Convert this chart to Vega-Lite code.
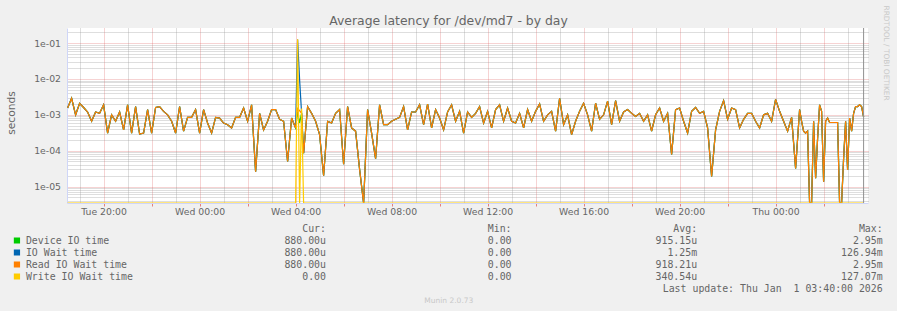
{
  "$schema": "https://vega.github.io/schema/vega-lite/v6.json",
  "width": 801,
  "height": 175,
  "autosize": {"type": "none"},
  "padding": {"left": 67, "top": 28, "right": 29, "bottom": 108},
  "background": "#f0f0f0",
  "config": {
    "view": {"fill": "#ffffff", "stroke": null},
    "font": "DejaVu Sans",
    "axis": {"labelFont": "DejaVu Sans", "titleFont": "DejaVu Sans", "labelColor": "#666666", "titleColor": "#666666", "titleFontWeight": "normal"}
  },
  "title": {"text": "Average latency for /dev/md7 - by day", "font": "DejaVu Sans", "fontSize": 12.4, "fontWeight": "normal", "color": "#666666", "anchor": "middle", "frame": "group", "dx": -19, "dy": 24, "offset": 2},
  "datasets": {
    "lat": [
      {"t":"2025-12-30 18:30","d":1.55e-3,"w":1.55e-3,"r":1.55e-3,"y":0},
      {"t":"2025-12-30 18:40","d":2.9e-3,"w":2.9e-3,"r":2.9e-3,"y":0},
      {"t":"2025-12-30 18:50","d":1.0e-3,"w":1.0e-3,"r":1.0e-3,"y":0},
      {"t":"2025-12-30 19:00","d":2.1e-3,"w":2.1e-3,"r":2.1e-3,"y":0},
      {"t":"2025-12-30 19:10","d":1.6e-3,"w":1.6e-3,"r":1.6e-3,"y":0},
      {"t":"2025-12-30 19:20","d":1.2e-3,"w":1.2e-3,"r":1.2e-3,"y":0},
      {"t":"2025-12-30 19:30","d":6.6e-4,"w":6.6e-4,"r":6.6e-4,"y":0},
      {"t":"2025-12-30 19:40","d":1.2e-3,"w":1.2e-3,"r":1.2e-3,"y":0},
      {"t":"2025-12-30 19:50","d":1.1e-3,"w":1.1e-3,"r":1.1e-3,"y":0},
      {"t":"2025-12-30 20:00","d":1.9e-3,"w":1.9e-3,"r":1.9e-3,"y":0},
      {"t":"2025-12-30 20:10","d":3.1e-4,"w":3.1e-4,"r":3.1e-4,"y":0},
      {"t":"2025-12-30 20:20","d":1.0e-3,"w":1.0e-3,"r":1.0e-3,"y":0},
      {"t":"2025-12-30 20:30","d":6.6e-4,"w":6.6e-4,"r":6.6e-4,"y":0},
      {"t":"2025-12-30 20:40","d":1.2e-3,"w":1.2e-3,"r":1.2e-3,"y":0},
      {"t":"2025-12-30 20:50","d":3.8e-4,"w":3.8e-4,"r":3.8e-4,"y":0},
      {"t":"2025-12-30 21:00","d":1.9e-3,"w":1.9e-3,"r":1.9e-3,"y":0},
      {"t":"2025-12-30 21:10","d":3.1e-4,"w":3.1e-4,"r":3.1e-4,"y":0},
      {"t":"2025-12-30 21:20","d":1.7e-3,"w":1.7e-3,"r":1.7e-3,"y":0},
      {"t":"2025-12-30 21:30","d":2.9e-4,"w":2.9e-4,"r":2.9e-4,"y":0},
      {"t":"2025-12-30 21:40","d":3.1e-4,"w":3.1e-4,"r":3.1e-4,"y":0},
      {"t":"2025-12-30 21:50","d":1.4e-3,"w":1.4e-3,"r":1.4e-3,"y":0},
      {"t":"2025-12-30 22:00","d":3.1e-4,"w":3.1e-4,"r":3.1e-4,"y":0},
      {"t":"2025-12-30 22:10","d":1.6e-3,"w":1.6e-3,"r":1.6e-3,"y":0},
      {"t":"2025-12-30 22:20","d":1.7e-3,"w":1.7e-3,"r":1.7e-3,"y":0},
      {"t":"2025-12-30 22:30","d":1.25e-3,"w":1.25e-3,"r":1.25e-3,"y":0},
      {"t":"2025-12-30 22:40","d":1.0e-3,"w":1.0e-3,"r":1.0e-3,"y":0},
      {"t":"2025-12-30 22:50","d":6.6e-4,"w":6.6e-4,"r":6.6e-4,"y":0},
      {"t":"2025-12-30 23:00","d":3.1e-4,"w":3.1e-4,"r":3.1e-4,"y":0},
      {"t":"2025-12-30 23:10","d":1.7e-3,"w":1.7e-3,"r":1.7e-3,"y":0},
      {"t":"2025-12-30 23:20","d":3.5e-4,"w":3.5e-4,"r":3.5e-4,"y":0},
      {"t":"2025-12-30 23:30","d":8.5e-4,"w":8.5e-4,"r":8.5e-4,"y":0},
      {"t":"2025-12-30 23:40","d":8.5e-4,"w":8.5e-4,"r":8.5e-4,"y":0},
      {"t":"2025-12-30 23:50","d":1.4e-3,"w":1.4e-3,"r":1.4e-3,"y":0},
      {"t":"2025-12-31 00:00","d":3.1e-4,"w":3.1e-4,"r":3.1e-4,"y":0},
      {"t":"2025-12-31 00:10","d":1.4e-3,"w":1.4e-3,"r":1.4e-3,"y":0},
      {"t":"2025-12-31 00:20","d":5.9e-4,"w":5.9e-4,"r":5.9e-4,"y":0},
      {"t":"2025-12-31 00:30","d":3.1e-4,"w":3.1e-4,"r":3.1e-4,"y":0},
      {"t":"2025-12-31 00:40","d":8.5e-4,"w":8.5e-4,"r":8.5e-4,"y":0},
      {"t":"2025-12-31 00:50","d":8.1e-4,"w":8.1e-4,"r":8.1e-4,"y":0},
      {"t":"2025-12-31 01:00","d":5.9e-4,"w":5.9e-4,"r":5.9e-4,"y":0},
      {"t":"2025-12-31 01:10","d":5.3e-4,"w":5.3e-4,"r":5.3e-4,"y":0},
      {"t":"2025-12-31 01:20","d":4.3e-4,"w":4.3e-4,"r":4.3e-4,"y":0},
      {"t":"2025-12-31 01:30","d":8.5e-4,"w":8.5e-4,"r":8.5e-4,"y":0},
      {"t":"2025-12-31 01:40","d":8.5e-4,"w":8.5e-4,"r":8.5e-4,"y":0},
      {"t":"2025-12-31 01:50","d":1.55e-3,"w":1.55e-3,"r":1.55e-3,"y":0},
      {"t":"2025-12-31 02:00","d":6.6e-4,"w":6.6e-4,"r":6.6e-4,"y":0},
      {"t":"2025-12-31 02:10","d":1.9e-3,"w":1.9e-3,"r":1.9e-3,"y":0},
      {"t":"2025-12-31 02:20","d":2.6e-5,"w":2.6e-5,"r":2.6e-5,"y":0},
      {"t":"2025-12-31 02:30","d":1.1e-3,"w":1.1e-3,"r":1.1e-3,"y":0},
      {"t":"2025-12-31 02:40","d":3.8e-4,"w":3.8e-4,"r":3.8e-4,"y":0},
      {"t":"2025-12-31 02:50","d":6.6e-4,"w":6.6e-4,"r":6.6e-4,"y":0},
      {"t":"2025-12-31 03:00","d":1.4e-3,"w":1.4e-3,"r":1.4e-3,"y":0},
      {"t":"2025-12-31 03:10","d":1.4e-3,"w":1.4e-3,"r":1.4e-3,"y":0},
      {"t":"2025-12-31 03:20","d":7.5e-4,"w":7.5e-4,"r":7.5e-4,"y":0},
      {"t":"2025-12-31 03:30","d":6.6e-4,"w":6.6e-4,"r":6.6e-4,"y":0},
      {"t":"2025-12-31 03:40","d":5.0e-5,"w":5.0e-5,"r":5.0e-5,"y":0},
      {"t":"2025-12-31 03:50","d":8.1e-4,"w":8.1e-4,"r":8.1e-4,"y":0},
      {"t":"2025-12-31 04:00","d":4.3e-4,"w":4.3e-4,"r":4.3e-4,"y":0},
      {"t":"2025-12-31 04:05","d":1.2e-3,"w":0.1269,"r":1.5e-3,"y":0.1271},
      {"t":"2025-12-31 04:10","d":6.0e-4,"w":9.5e-3,"r":1.3e-3,"y":0},
      {"t":"2025-12-31 04:15","d":1.1e-3,"w":1.1e-3,"r":1.1e-3,"y":1.5e-3},
      {"t":"2025-12-31 04:20","d":8.5e-5,"w":8.5e-5,"r":8.5e-5,"y":0},
      {"t":"2025-12-31 04:30","d":1.7e-3,"w":1.7e-3,"r":1.7e-3,"y":0},
      {"t":"2025-12-31 04:40","d":1.1e-3,"w":1.1e-3,"r":1.1e-3,"y":0},
      {"t":"2025-12-31 04:50","d":6.6e-4,"w":6.6e-4,"r":6.6e-4,"y":0},
      {"t":"2025-12-31 05:00","d":2.8e-4,"w":2.8e-4,"r":2.8e-4,"y":0},
      {"t":"2025-12-31 05:10","d":2.0e-5,"w":2.0e-5,"r":2.0e-5,"y":0},
      {"t":"2025-12-31 05:20","d":6.6e-4,"w":6.6e-4,"r":6.6e-4,"y":0},
      {"t":"2025-12-31 05:30","d":5.9e-4,"w":5.9e-4,"r":5.9e-4,"y":0},
      {"t":"2025-12-31 05:40","d":1.1e-3,"w":1.1e-3,"r":1.1e-3,"y":0},
      {"t":"2025-12-31 05:50","d":1.4e-3,"w":1.4e-3,"r":1.4e-3,"y":0},
      {"t":"2025-12-31 06:00","d":4.2e-5,"w":4.2e-5,"r":4.2e-5,"y":0},
      {"t":"2025-12-31 06:10","d":1.7e-3,"w":1.7e-3,"r":1.7e-3,"y":0},
      {"t":"2025-12-31 06:20","d":4.3e-4,"w":4.3e-4,"r":4.3e-4,"y":0},
      {"t":"2025-12-31 06:30","d":3.5e-4,"w":3.5e-4,"r":3.5e-4,"y":0},
      {"t":"2025-12-31 06:40","d":3.0e-5,"w":3.0e-5,"r":3.0e-5,"y":0},
      {"t":"2025-12-31 06:50","d":0,"w":0,"r":0,"y":0},
      {"t":"2025-12-31 07:00","d":1.4e-3,"w":1.4e-3,"r":1.4e-3,"y":0},
      {"t":"2025-12-31 07:10","d":3.1e-4,"w":3.1e-4,"r":3.1e-4,"y":0},
      {"t":"2025-12-31 07:20","d":6.0e-5,"w":6.0e-5,"r":6.0e-5,"y":0},
      {"t":"2025-12-31 07:30","d":1.9e-3,"w":1.9e-3,"r":1.9e-3,"y":0},
      {"t":"2025-12-31 07:40","d":5.3e-4,"w":5.3e-4,"r":5.3e-4,"y":0},
      {"t":"2025-12-31 07:50","d":5.3e-4,"w":5.3e-4,"r":5.3e-4,"y":0},
      {"t":"2025-12-31 08:00","d":6.6e-4,"w":6.6e-4,"r":6.6e-4,"y":0},
      {"t":"2025-12-31 08:10","d":7.5e-4,"w":7.5e-4,"r":7.5e-4,"y":0},
      {"t":"2025-12-31 08:20","d":8.5e-4,"w":8.5e-4,"r":8.5e-4,"y":0},
      {"t":"2025-12-31 08:30","d":1.7e-3,"w":1.7e-3,"r":1.7e-3,"y":0},
      {"t":"2025-12-31 08:40","d":3.8e-4,"w":3.8e-4,"r":3.8e-4,"y":0},
      {"t":"2025-12-31 08:50","d":1.2e-3,"w":1.2e-3,"r":1.2e-3,"y":0},
      {"t":"2025-12-31 09:00","d":1.2e-3,"w":1.2e-3,"r":1.2e-3,"y":0},
      {"t":"2025-12-31 09:10","d":1.9e-3,"w":1.9e-3,"r":1.9e-3,"y":0},
      {"t":"2025-12-31 09:20","d":5.3e-4,"w":5.3e-4,"r":5.3e-4,"y":0},
      {"t":"2025-12-31 09:30","d":2.0e-3,"w":2.0e-3,"r":2.0e-3,"y":0},
      {"t":"2025-12-31 09:40","d":4.3e-4,"w":4.3e-4,"r":4.3e-4,"y":0},
      {"t":"2025-12-31 09:50","d":1.4e-3,"w":1.4e-3,"r":1.4e-3,"y":0},
      {"t":"2025-12-31 10:00","d":8.1e-4,"w":8.1e-4,"r":8.1e-4,"y":0},
      {"t":"2025-12-31 10:10","d":3.8e-4,"w":3.8e-4,"r":3.8e-4,"y":0},
      {"t":"2025-12-31 10:20","d":1.2e-3,"w":1.2e-3,"r":1.2e-3,"y":0},
      {"t":"2025-12-31 10:30","d":1.9e-3,"w":1.9e-3,"r":1.9e-3,"y":0},
      {"t":"2025-12-31 10:40","d":6.6e-4,"w":6.6e-4,"r":6.6e-4,"y":0},
      {"t":"2025-12-31 10:50","d":1.25e-3,"w":1.25e-3,"r":1.25e-3,"y":0},
      {"t":"2025-12-31 11:00","d":3.1e-4,"w":3.1e-4,"r":3.1e-4,"y":0},
      {"t":"2025-12-31 11:10","d":1.2e-3,"w":1.2e-3,"r":1.2e-3,"y":0},
      {"t":"2025-12-31 11:20","d":8.5e-4,"w":8.5e-4,"r":8.5e-4,"y":0},
      {"t":"2025-12-31 11:30","d":1.1e-3,"w":1.1e-3,"r":1.1e-3,"y":0},
      {"t":"2025-12-31 11:40","d":1.7e-3,"w":1.7e-3,"r":1.7e-3,"y":0},
      {"t":"2025-12-31 11:50","d":5.9e-4,"w":5.9e-4,"r":5.9e-4,"y":0},
      {"t":"2025-12-31 12:00","d":1.25e-3,"w":1.25e-3,"r":1.25e-3,"y":0},
      {"t":"2025-12-31 12:10","d":4.3e-4,"w":4.3e-4,"r":4.3e-4,"y":0},
      {"t":"2025-12-31 12:20","d":1.4e-3,"w":1.4e-3,"r":1.4e-3,"y":0},
      {"t":"2025-12-31 12:30","d":1.9e-3,"w":1.9e-3,"r":1.9e-3,"y":0},
      {"t":"2025-12-31 12:40","d":6.6e-4,"w":6.6e-4,"r":6.6e-4,"y":0},
      {"t":"2025-12-31 12:50","d":1.55e-3,"w":1.55e-3,"r":1.55e-3,"y":0},
      {"t":"2025-12-31 13:00","d":6.6e-4,"w":6.6e-4,"r":6.6e-4,"y":0},
      {"t":"2025-12-31 13:10","d":5.9e-4,"w":5.9e-4,"r":5.9e-4,"y":0},
      {"t":"2025-12-31 13:20","d":1.1e-3,"w":1.1e-3,"r":1.1e-3,"y":0},
      {"t":"2025-12-31 13:30","d":4.3e-4,"w":4.3e-4,"r":4.3e-4,"y":0},
      {"t":"2025-12-31 13:40","d":1.4e-3,"w":1.4e-3,"r":1.4e-3,"y":0},
      {"t":"2025-12-31 13:50","d":6.6e-4,"w":6.6e-4,"r":6.6e-4,"y":0},
      {"t":"2025-12-31 14:00","d":1.25e-3,"w":1.25e-3,"r":1.25e-3,"y":0},
      {"t":"2025-12-31 14:10","d":2.0e-3,"w":2.0e-3,"r":2.0e-3,"y":0},
      {"t":"2025-12-31 14:20","d":6.6e-4,"w":6.6e-4,"r":6.6e-4,"y":0},
      {"t":"2025-12-31 14:30","d":1.0e-3,"w":1.0e-3,"r":1.0e-3,"y":0},
      {"t":"2025-12-31 14:40","d":1.25e-3,"w":1.25e-3,"r":1.25e-3,"y":0},
      {"t":"2025-12-31 14:50","d":3.5e-4,"w":3.5e-4,"r":3.5e-4,"y":0},
      {"t":"2025-12-31 15:00","d":2.9e-3,"w":2.9e-3,"r":2.9e-3,"y":0},
      {"t":"2025-12-31 15:10","d":5.3e-4,"w":5.3e-4,"r":5.3e-4,"y":0},
      {"t":"2025-12-31 15:20","d":1.0e-3,"w":1.0e-3,"r":1.0e-3,"y":0},
      {"t":"2025-12-31 15:30","d":2.8e-4,"w":2.8e-4,"r":2.8e-4,"y":0},
      {"t":"2025-12-31 15:40","d":6.6e-4,"w":6.6e-4,"r":6.6e-4,"y":0},
      {"t":"2025-12-31 15:50","d":1.25e-3,"w":1.25e-3,"r":1.25e-3,"y":0},
      {"t":"2025-12-31 16:00","d":2.1e-3,"w":2.1e-3,"r":2.1e-3,"y":0},
      {"t":"2025-12-31 16:10","d":1.0e-3,"w":1.0e-3,"r":1.0e-3,"y":0},
      {"t":"2025-12-31 16:20","d":3.5e-4,"w":3.5e-4,"r":3.5e-4,"y":0},
      {"t":"2025-12-31 16:30","d":2.1e-3,"w":2.1e-3,"r":2.1e-3,"y":0},
      {"t":"2025-12-31 16:40","d":7.5e-4,"w":7.5e-4,"r":7.5e-4,"y":0},
      {"t":"2025-12-31 16:50","d":1.0e-3,"w":1.0e-3,"r":1.0e-3,"y":0},
      {"t":"2025-12-31 17:00","d":2.4e-3,"w":2.4e-3,"r":2.4e-3,"y":0},
      {"t":"2025-12-31 17:10","d":5.3e-4,"w":5.3e-4,"r":5.3e-4,"y":0},
      {"t":"2025-12-31 17:20","d":2.5e-3,"w":2.5e-3,"r":2.5e-3,"y":0},
      {"t":"2025-12-31 17:30","d":6.6e-4,"w":6.6e-4,"r":6.6e-4,"y":0},
      {"t":"2025-12-31 17:40","d":1.2e-3,"w":1.2e-3,"r":1.2e-3,"y":0},
      {"t":"2025-12-31 17:50","d":1.4e-3,"w":1.4e-3,"r":1.4e-3,"y":0},
      {"t":"2025-12-31 18:00","d":1.1e-3,"w":1.1e-3,"r":1.1e-3,"y":0},
      {"t":"2025-12-31 18:10","d":9.0e-4,"w":9.0e-4,"r":9.0e-4,"y":0},
      {"t":"2025-12-31 18:20","d":1.1e-3,"w":1.1e-3,"r":1.1e-3,"y":0},
      {"t":"2025-12-31 18:30","d":6.6e-4,"w":6.6e-4,"r":6.6e-4,"y":0},
      {"t":"2025-12-31 18:40","d":1.0e-3,"w":1.0e-3,"r":1.0e-3,"y":0},
      {"t":"2025-12-31 18:50","d":3.5e-4,"w":3.5e-4,"r":3.5e-4,"y":0},
      {"t":"2025-12-31 19:00","d":1.0e-3,"w":1.0e-3,"r":1.0e-3,"y":0},
      {"t":"2025-12-31 19:10","d":1.55e-3,"w":1.55e-3,"r":1.55e-3,"y":0},
      {"t":"2025-12-31 19:20","d":6.6e-4,"w":6.6e-4,"r":6.6e-4,"y":0},
      {"t":"2025-12-31 19:30","d":1.1e-3,"w":1.1e-3,"r":1.1e-3,"y":0},
      {"t":"2025-12-31 19:40","d":7.8e-5,"w":7.8e-5,"r":7.8e-5,"y":0},
      {"t":"2025-12-31 19:50","d":1.4e-3,"w":1.4e-3,"r":1.4e-3,"y":0},
      {"t":"2025-12-31 20:00","d":1.55e-3,"w":1.55e-3,"r":1.55e-3,"y":0},
      {"t":"2025-12-31 20:10","d":6.6e-4,"w":6.6e-4,"r":6.6e-4,"y":0},
      {"t":"2025-12-31 20:20","d":3.1e-4,"w":3.1e-4,"r":3.1e-4,"y":0},
      {"t":"2025-12-31 20:30","d":1.25e-3,"w":1.25e-3,"r":1.25e-3,"y":0},
      {"t":"2025-12-31 20:40","d":1.6e-3,"w":1.6e-3,"r":1.6e-3,"y":0},
      {"t":"2025-12-31 20:50","d":1.1e-3,"w":1.1e-3,"r":1.1e-3,"y":0},
      {"t":"2025-12-31 21:00","d":1.25e-3,"w":1.25e-3,"r":1.25e-3,"y":0},
      {"t":"2025-12-31 21:10","d":4.3e-4,"w":4.3e-4,"r":4.3e-4,"y":0},
      {"t":"2025-12-31 21:20","d":1.9e-5,"w":1.9e-5,"r":1.9e-5,"y":0},
      {"t":"2025-12-31 21:30","d":3.8e-4,"w":3.8e-4,"r":3.8e-4,"y":0},
      {"t":"2025-12-31 21:40","d":1.25e-3,"w":1.25e-3,"r":1.25e-3,"y":0},
      {"t":"2025-12-31 21:50","d":2.5e-3,"w":2.5e-3,"r":2.5e-3,"y":0},
      {"t":"2025-12-31 22:00","d":7.5e-4,"w":7.5e-4,"r":7.5e-4,"y":0},
      {"t":"2025-12-31 22:10","d":1.55e-3,"w":1.55e-3,"r":1.55e-3,"y":0},
      {"t":"2025-12-31 22:20","d":1.4e-3,"w":1.4e-3,"r":1.4e-3,"y":0},
      {"t":"2025-12-31 22:30","d":4.3e-4,"w":4.3e-4,"r":4.3e-4,"y":0},
      {"t":"2025-12-31 22:40","d":7.5e-4,"w":7.5e-4,"r":7.5e-4,"y":0},
      {"t":"2025-12-31 22:50","d":1.1e-3,"w":1.1e-3,"r":1.1e-3,"y":0},
      {"t":"2025-12-31 23:00","d":1.1e-3,"w":1.1e-3,"r":1.1e-3,"y":0},
      {"t":"2025-12-31 23:10","d":6.6e-4,"w":6.6e-4,"r":6.6e-4,"y":0},
      {"t":"2025-12-31 23:20","d":4.3e-4,"w":4.3e-4,"r":4.3e-4,"y":0},
      {"t":"2025-12-31 23:30","d":1.0e-3,"w":1.0e-3,"r":1.0e-3,"y":0},
      {"t":"2025-12-31 23:40","d":1.1e-3,"w":1.1e-3,"r":1.1e-3,"y":0},
      {"t":"2025-12-31 23:50","d":6.6e-4,"w":6.6e-4,"r":6.6e-4,"y":0},
      {"t":"2026-01-01 00:00","d":2.7e-3,"w":2.7e-3,"r":2.7e-3,"y":0},
      {"t":"2026-01-01 00:10","d":1.25e-3,"w":1.25e-3,"r":1.25e-3,"y":0},
      {"t":"2026-01-01 00:20","d":6.6e-4,"w":6.6e-4,"r":6.6e-4,"y":0},
      {"t":"2026-01-01 00:30","d":3.5e-4,"w":3.5e-4,"r":3.5e-4,"y":0},
      {"t":"2026-01-01 00:40","d":8.5e-4,"w":8.5e-4,"r":8.5e-4,"y":0},
      {"t":"2026-01-01 00:50","d":3.2e-5,"w":3.2e-5,"r":3.2e-5,"y":0},
      {"t":"2026-01-01 01:00","d":1.4e-3,"w":1.4e-3,"r":1.4e-3,"y":0},
      {"t":"2026-01-01 01:05","d":6.6e-4,"w":6.6e-4,"r":6.6e-4,"y":0},
      {"t":"2026-01-01 01:10","d":3.5e-4,"w":3.5e-4,"r":3.5e-4,"y":0},
      {"t":"2026-01-01 01:15","d":3.1e-4,"w":3.1e-4,"r":3.1e-4,"y":0},
      {"t":"2026-01-01 01:20","d":3.5e-4,"w":3.5e-4,"r":3.5e-4,"y":0},
      {"t":"2026-01-01 01:25","d":0,"w":0,"r":0,"y":0},
      {"t":"2026-01-01 01:30","d":0,"w":0,"r":0,"y":0},
      {"t":"2026-01-01 01:35","d":6.6e-4,"w":6.6e-4,"r":6.6e-4,"y":0},
      {"t":"2026-01-01 01:40","d":1.7e-5,"w":1.7e-5,"r":1.7e-5,"y":0},
      {"t":"2026-01-01 01:45","d":2.2e-4,"w":2.2e-4,"r":2.2e-4,"y":0},
      {"t":"2026-01-01 01:50","d":1.9e-3,"w":1.9e-3,"r":1.9e-3,"y":0},
      {"t":"2026-01-01 01:55","d":1.25e-3,"w":1.25e-3,"r":1.25e-3,"y":0},
      {"t":"2026-01-01 02:00","d":1.35e-5,"w":1.35e-5,"r":1.35e-5,"y":0},
      {"t":"2026-01-01 02:05","d":6.6e-4,"w":6.6e-4,"r":6.6e-4,"y":0},
      {"t":"2026-01-01 02:10","d":8.1e-4,"w":8.1e-4,"r":8.1e-4,"y":0},
      {"t":"2026-01-01 02:15","d":6.1e-4,"w":6.1e-4,"r":6.1e-4,"y":0},
      {"t":"2026-01-01 02:20","d":6.1e-4,"w":6.1e-4,"r":6.1e-4,"y":0},
      {"t":"2026-01-01 02:25","d":6.1e-4,"w":6.1e-4,"r":6.1e-4,"y":0},
      {"t":"2026-01-01 02:30","d":6.1e-4,"w":6.1e-4,"r":6.1e-4,"y":0},
      {"t":"2026-01-01 02:35","d":6.1e-4,"w":6.1e-4,"r":6.1e-4,"y":0},
      {"t":"2026-01-01 02:40","d":0,"w":0,"r":0,"y":0},
      {"t":"2026-01-01 02:45","d":0,"w":0,"r":0,"y":0},
      {"t":"2026-01-01 02:50","d":6.0e-5,"w":6.0e-5,"r":6.0e-5,"y":0},
      {"t":"2026-01-01 02:55","d":6.6e-4,"w":6.6e-4,"r":6.6e-4,"y":0},
      {"t":"2026-01-01 03:00","d":2.9e-5,"w":2.9e-5,"r":2.9e-5,"y":0},
      {"t":"2026-01-01 03:05","d":8.1e-4,"w":8.1e-4,"r":8.1e-4,"y":0},
      {"t":"2026-01-01 03:10","d":3.5e-4,"w":3.5e-4,"r":3.5e-4,"y":0},
      {"t":"2026-01-01 03:15","d":1.1e-3,"w":1.1e-3,"r":1.1e-3,"y":0},
      {"t":"2026-01-01 03:20","d":1.7e-3,"w":1.7e-3,"r":1.7e-3,"y":0},
      {"t":"2026-01-01 03:25","d":1.7e-3,"w":1.7e-3,"r":1.7e-3,"y":0},
      {"t":"2026-01-01 03:30","d":1.9e-3,"w":1.9e-3,"r":1.9e-3,"y":0},
      {"t":"2026-01-01 03:35","d":1.7e-3,"w":1.7e-3,"r":1.7e-3,"y":0},
      {"t":"2026-01-01 03:40","d":8.8e-4,"w":8.8e-4,"r":8.8e-4,"y":0}
    ],
    "now": [{"t":"2026-01-01 03:40"}],
    "tbl": [
      {"row":"hdr","col":"cur","txt":"Cur:\u00a0\u00a0"},
      {"row":"hdr","col":"min","txt":"Min:\u00a0\u00a0"},
      {"row":"hdr","col":"avg","txt":"Avg:\u00a0\u00a0"},
      {"row":"hdr","col":"max","txt":"Max:\u00a0\u00a0"},
      {"row":"d","col":"cur","txt":"880.00u"},
      {"row":"d","col":"min","txt":"0.00\u00a0"},
      {"row":"d","col":"avg","txt":"915.15u"},
      {"row":"d","col":"max","txt":"2.95m"},
      {"row":"w","col":"cur","txt":"880.00u"},
      {"row":"w","col":"min","txt":"0.00\u00a0"},
      {"row":"w","col":"avg","txt":"1.25m"},
      {"row":"w","col":"max","txt":"126.94m"},
      {"row":"r","col":"cur","txt":"880.00u"},
      {"row":"r","col":"min","txt":"0.00\u00a0"},
      {"row":"r","col":"avg","txt":"918.21u"},
      {"row":"r","col":"max","txt":"2.95m"},
      {"row":"y","col":"cur","txt":"0.00\u00a0"},
      {"row":"y","col":"min","txt":"0.00\u00a0"},
      {"row":"y","col":"avg","txt":"340.54u"},
      {"row":"y","col":"max","txt":"127.07m"},
      {"row":"upd","col":"max","txt":"Last update: Thu Jan\u00a0 1 03:40:00 2026"}
    ]
  },
  "layer": [
    {
      "layer": [
        {
          "data": {"name": "lat"},
          "transform": [{"fold": ["d", "w", "r", "y"], "as": ["s", "v"]}],
          "mark": {"type": "line", "strokeWidth": 1.2, "clip": true},
          "encoding": {
            "x": {
              "field": "t", "type": "temporal",
              "scale": {"domain": [{"year": 2025, "month": 12, "date": 30, "hours": 18, "minutes": 28, "seconds": 30}, {"year": 2026, "month": 1, "date": 1, "hours": 3, "minutes": 51}]},
              "axis": {
                "orient": "bottom",
                "values": [
                  {"year": 2025, "month": 12, "date": 30, "hours": 20}, {"year": 2025, "month": 12, "date": 30, "hours": 22},
                  {"year": 2025, "month": 12, "date": 31, "hours": 0}, {"year": 2025, "month": 12, "date": 31, "hours": 2},
                  {"year": 2025, "month": 12, "date": 31, "hours": 4}, {"year": 2025, "month": 12, "date": 31, "hours": 6},
                  {"year": 2025, "month": 12, "date": 31, "hours": 8}, {"year": 2025, "month": 12, "date": 31, "hours": 10},
                  {"year": 2025, "month": 12, "date": 31, "hours": 12}, {"year": 2025, "month": 12, "date": 31, "hours": 14},
                  {"year": 2025, "month": 12, "date": 31, "hours": 16}, {"year": 2025, "month": 12, "date": 31, "hours": 18},
                  {"year": 2025, "month": 12, "date": 31, "hours": 20}, {"year": 2025, "month": 12, "date": 31, "hours": 22},
                  {"year": 2026, "month": 1, "date": 1, "hours": 0}, {"year": 2026, "month": 1, "date": 1, "hours": 2}
                ],
                "labelExpr": "hours(datum.value) % 4 == 0 ? timeFormat(datum.value, '%a %H:%M') : ''",
                "labelOverlap": false, "labelFlush": false, "labelFontSize": 9.3, "labelPadding": 1.5,
                "tickSize": 3, "tickColor": "#de4f4f", "tickOpacity": 0.7,
                "grid": true, "gridDash": [1, 1], "gridColor": "#de4f4f", "gridOpacity": 0.5,
                "domainColor": "#cfd6f8",
                "title": "Munin 2.0.73", "titleX": 381.3, "titleY": 97, "titleFontSize": 7.5, "titleColor": "#c8c8c8", "titleBaseline": "middle", "titleAlign": "center"
              }
            },
            "y": {
              "field": "v", "type": "quantitative",
              "scale": {"type": "log", "domain": [3.47e-6, 0.264], "nice": false, "clamp": true},
              "axis": {
                "orient": "left",
                "values": [1e-5, 1e-4, 1e-3, 1e-2, 1e-1],
                "labelExpr": "'1e-0' + (-round(log(datum.value)/LN10))",
                "labelOverlap": false, "labelFlush": false, "labelFontSize": 9.3, "labelPadding": 6.5,
                "ticks": false,
                "grid": true, "gridDash": [1, 1], "gridColor": "#de4f4f", "gridOpacity": 0.5,
                "domainColor": "#cfd6f8",
                "title": "seconds", "titleFontSize": 10.7, "titleX": -55.3, "titleY": 84.5, "titleBaseline": "middle", "titleAlign": "center", "titleAngle": -90
              }
            },
            "color": {
              "field": "s", "type": "nominal",
              "scale": {"domain": ["d", "w", "r", "y"], "range": ["#00cc00", "#0066b3", "#ff8000", "#ffcc00"]},
              "legend": {
                "orient": "none", "legendX": -55, "legendY": 207.5, "title": null, "direction": "vertical",
                "symbolType": "square", "symbolSize": 5, "symbolStrokeWidth": 4,
                "labelFont": "DejaVu Sans Mono", "labelFontSize": 9.9, "labelColor": "#666666", "labelOffset": 4, "rowPadding": 2, "clipHeight": 10,
                "labelExpr": "datum.label == 'd' ? 'Device IO time' : datum.label == 'w' ? 'IO Wait time' : datum.label == 'r' ? 'Read IO Wait time' : 'Write IO Wait time'"
              }
            },
            "opacity": {
              "field": "s", "type": "nominal",
              "scale": {"domain": ["d", "w", "r", "y"], "range": [1, 1, 0.8, 1]},
              "legend": null
            }
          }
        },
        {
          "data": {"name": "now"},
          "mark": {"type": "rule", "color": "#909090", "strokeWidth": 1},
          "encoding": {
            "x": {
              "field": "t", "type": "temporal",
              "axis": {
                "orient": "bottom",
                "values": [
                  {"year": 2025, "month": 12, "date": 30, "hours": 19}, {"year": 2025, "month": 12, "date": 30, "hours": 21}, {"year": 2025, "month": 12, "date": 30, "hours": 23},
                  {"year": 2025, "month": 12, "date": 31, "hours": 1}, {"year": 2025, "month": 12, "date": 31, "hours": 3},
                  {"year": 2025, "month": 12, "date": 31, "hours": 5}, {"year": 2025, "month": 12, "date": 31, "hours": 7},
                  {"year": 2025, "month": 12, "date": 31, "hours": 9}, {"year": 2025, "month": 12, "date": 31, "hours": 11},
                  {"year": 2025, "month": 12, "date": 31, "hours": 13}, {"year": 2025, "month": 12, "date": 31, "hours": 15},
                  {"year": 2025, "month": 12, "date": 31, "hours": 17}, {"year": 2025, "month": 12, "date": 31, "hours": 19},
                  {"year": 2025, "month": 12, "date": 31, "hours": 21}, {"year": 2025, "month": 12, "date": 31, "hours": 23},
                  {"year": 2026, "month": 1, "date": 1, "hours": 1}, {"year": 2026, "month": 1, "date": 1, "hours": 3}
                ],
                "labels": false, "ticks": false, "domain": false, "title": null,
                "grid": true, "gridDash": [1, 1], "gridColor": "#8f8f8f", "gridOpacity": 0.6
              }
            },
            "y": {
              "datum": 0.264, "type": "quantitative",
              "axis": {
                "orient": "left",
                "values": [4e-6, 5e-6, 6e-6, 7e-6, 8e-6, 9e-6, 2e-5, 3e-5, 4e-5, 5e-5, 6e-5, 7e-5, 8e-5, 9e-5, 2e-4, 3e-4, 4e-4, 5e-4, 6e-4, 7e-4, 8e-4, 9e-4, 2e-3, 3e-3, 4e-3, 5e-3, 6e-3, 7e-3, 8e-3, 9e-3, 2e-2, 3e-2, 4e-2, 5e-2, 6e-2, 7e-2, 8e-2, 9e-2, 2e-1],
                "labels": false, "ticks": false, "domain": false, "title": null,
                "grid": true, "gridDash": [1, 1], "gridColor": "#8f8f8f", "gridOpacity": 0.6
              }
            },
            "y2": {"datum": 3.47e-6}
          }
        }
      ],
      "resolve": {"axis": {"x": "independent", "y": "independent"}}
    },
    {
      "data": {"name": "tbl"},
      "mark": {"type": "text", "font": "DejaVu Sans Mono", "fontSize": 9.9, "align": "right", "baseline": "middle", "color": "#666666"},
      "encoding": {
        "x": {"field": "col", "type": "nominal", "scale": {"type": "point", "domain": ["cur", "min", "avg", "max"], "range": [259, 815.7], "padding": 0}, "axis": null},
        "y": {"field": "row", "type": "nominal", "scale": {"type": "point", "domain": ["hdr", "d", "w", "r", "y", "upd"], "range": [200.5, 260.5], "padding": 0},
              "axis": {"orient": "right", "labels": false, "ticks": false, "domain": false, "grid": false, "title": "RRDTOOL / TOBI OETIKER", "titleAngle": 90, "titleX": 17, "titleY": -23, "titleAlign": "left", "titleBaseline": "middle", "titleFontSize": 7.4, "titleColor": "#c8c8c8"}},
        "text": {"field": "txt"}
      }
    }
  ],
  "resolve": {"scale": {"x": "independent", "y": "independent"}}
}
